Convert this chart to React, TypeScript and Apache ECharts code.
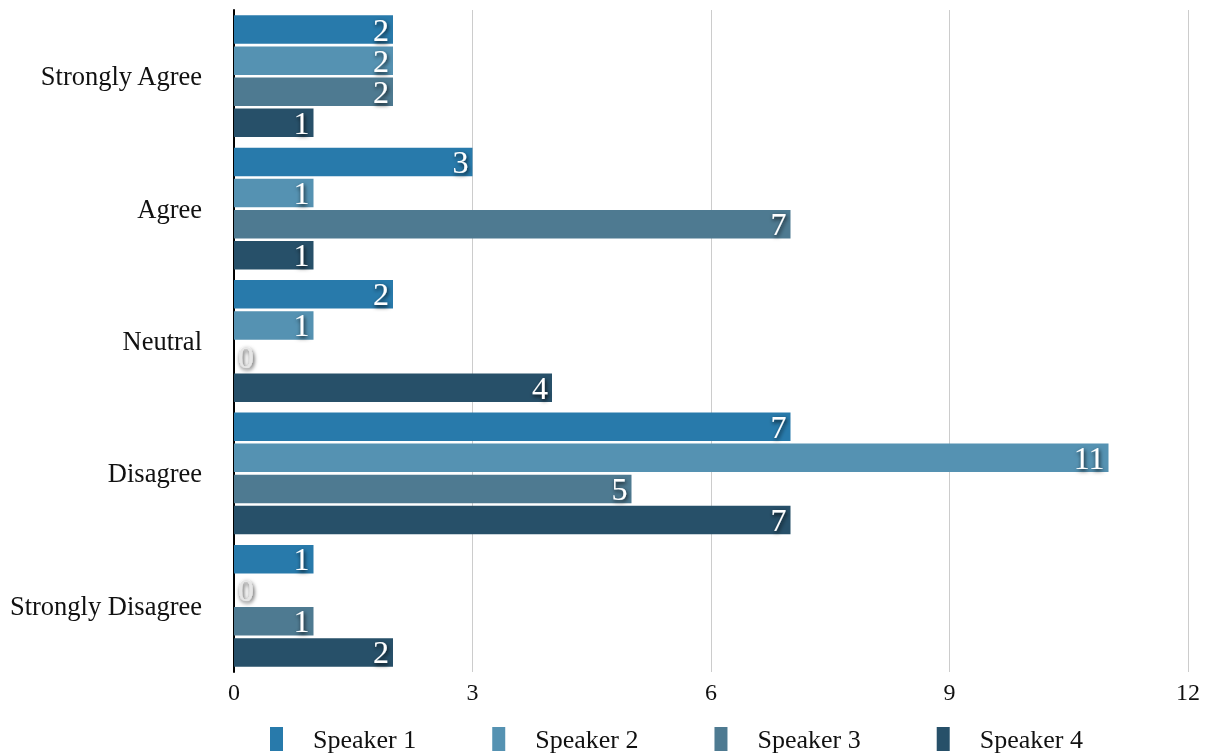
import React, { useEffect, useRef } from "react";
import * as echarts from "echarts";

const categories = ["Strongly Agree", "Agree", "Neutral", "Disagree", "Strongly Disagree"];
const speakerNames = ["Speaker 1", "Speaker 2", "Speaker 3", "Speaker 4"];
const speaker1 = [2, 3, 2, 7, 1];
const speaker2 = [2, 1, 1, 11, 0];
const speaker3 = [2, 7, 0, 5, 1];
const speaker4 = [1, 1, 4, 7, 2];
const xTicks = [0, 3, 6, 9, 12];
const palette = ["#287aab", "#5592b2", "#4e7a91", "#275069"];

const FONT = "Liberation Serif";

function buildSeries() {
  const values = [speaker1, speaker2, speaker3, speaker4];
  return values.map((vals, i) => ({
    name: speakerNames[i],
    type: "bar",
    barGap: "9%",
    barCategoryGap: "8%",
    itemStyle: { color: palette[i] },
    data: vals.map((v) =>
      v === 0
        ? {
            value: v,
            label: {
              position: "right",
              distance: 4,
              color: "#e6e6e6",
            },
          }
        : v
    ),
    label: {
      show: true,
      position: "insideRight",
      distance: 4,
      color: "#ffffff",
      fontFamily: FONT,
      fontSize: 32,
      textShadowColor: "rgba(0,0,0,0.85)",
      textShadowBlur: 4,
      textShadowOffsetX: 1,
      textShadowOffsetY: 2,
    },
  }));
}

export default function App() {
  const ref = useRef<HTMLDivElement>(null);

  useEffect(() => {
    if (!ref.current) return;
    const chart = echarts.init(ref.current, null, { renderer: "svg" });
    chart.setOption({
      animation: false,
      textStyle: { fontFamily: FONT },
      grid: { left: 234, right: 17, top: 10, bottom: 81, containLabel: false },
      legend: {
        data: speakerNames,
        left: 270,
        top: 726,
        padding: 0,
        itemWidth: 13,
        itemHeight: 24,
        itemGap: 76,
        icon: "rect",
        textStyle: {
          fontFamily: FONT,
          fontSize: 26,
          color: "#111",
          padding: [0, 0, 0, 25],
        },
      },
      xAxis: {
        type: "value",
        min: xTicks[0],
        max: xTicks[xTicks.length - 1],
        interval: 3,
        axisLine: { show: false },
        axisTick: { show: false },
        axisLabel: {
          fontFamily: FONT,
          fontSize: 24,
          color: "#111",
          margin: 8,
        },
        splitLine: { show: true, lineStyle: { color: "#cccccc", width: 1 } },
      },
      yAxis: {
        type: "category",
        data: categories,
        inverse: true,
        axisLine: { show: true, lineStyle: { color: "#000", width: 2 } },
        axisTick: { show: false },
        axisLabel: {
          fontFamily: FONT,
          fontSize: 26.5,
          color: "#111",
          margin: 32,
        },
      },
      series: buildSeries(),
    });
    return () => chart.dispose();
  }, []);

  return (
    <div
      ref={ref}
      style={{ position: "fixed", left: 0, top: 0, width: 1205, height: 753 }}
    />
  );
}
